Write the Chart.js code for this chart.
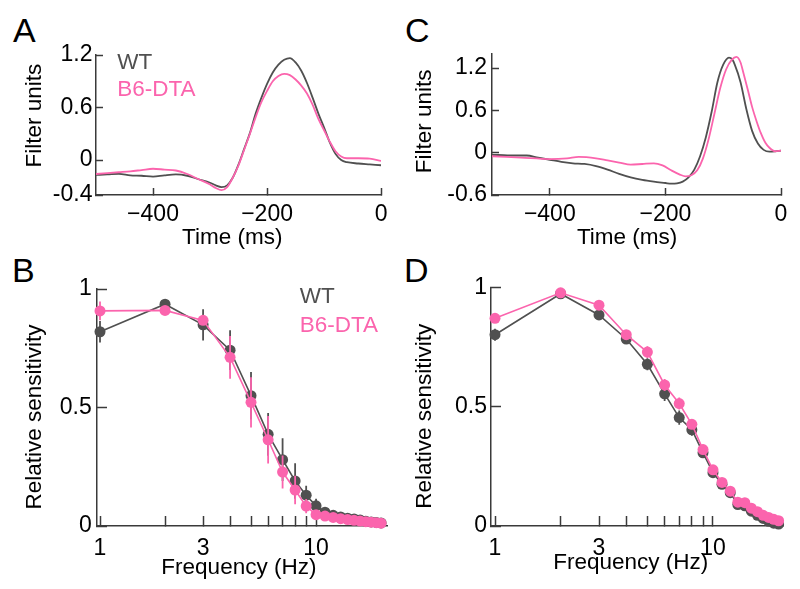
<!DOCTYPE html>
<html><head><meta charset="utf-8">
<script src="https://cdn.jsdelivr.net/npm/chart.js@4.4.0/dist/chart.umd.min.js"></script>
<style>
html,body{margin:0;padding:0;background:#fff;}
body{width:800px;height:589px;position:relative;overflow:hidden;font-family:"Liberation Sans",Arial,sans-serif;}
.panel{position:absolute;}
.letter{position:absolute;font-size:34px;line-height:34px;color:#000;}
</style></head><body>
<div class="letter" style="left:13px;top:13px">A</div>
<div class="letter" style="left:405px;top:13px">C</div>
<div class="letter" style="left:12px;top:253px">B</div>
<div class="letter" style="left:404px;top:253px">D</div>
<canvas class="panel" id="cA" width="400" height="260" style="left:0;top:0"></canvas>
<canvas class="panel" id="cC" width="400" height="260" style="left:400px;top:0"></canvas>
<canvas class="panel" id="cB" width="400" height="329" style="left:0;top:260px"></canvas>
<canvas class="panel" id="cD" width="400" height="329" style="left:400px;top:260px"></canvas>
<script>
// ---------- Panel A: temporal filters ----------
const A_TIME = [-500,-480,-460,-440,-420,-400,-380,-360,-340,-320,-300,-290,-280,-270,-260,-250,-240,-230,-220,-210,-200,-190,-180,-170,-160,-150,-140,-130,-120,-110,-100,-90,-80,-70,-60,-40,-20,0];
const A_WT   = [-0.17,-0.165,-0.158,-0.175,-0.18,-0.19,-0.175,-0.165,-0.18,-0.22,-0.26,-0.29,-0.31,-0.29,-0.2,-0.05,0.13,0.31,0.53,0.71,0.87,1.0,1.09,1.145,1.165,1.115,1.02,0.88,0.71,0.53,0.37,0.2,0.07,0.0,-0.025,-0.04,-0.05,-0.06];
const A_DTA  = [-0.16,-0.15,-0.14,-0.13,-0.115,-0.1,-0.11,-0.12,-0.16,-0.22,-0.28,-0.32,-0.345,-0.31,-0.2,-0.06,0.12,0.3,0.49,0.66,0.79,0.9,0.96,0.985,0.97,0.92,0.85,0.76,0.63,0.47,0.34,0.21,0.1,0.04,0.02,0.02,0.015,-0.01];
const A_XTICKS = [-400,-200,0];
const A_YTICKS = [-0.4,0,0.6,1.2];

// ---------- Panel C: temporal filters ----------
const C_TIME_WT = [-500,-480,-460,-440,-420,-400,-380,-360,-340,-320,-300,-280,-260,-240,-220,-200,-190,-180,-170,-160,-150,-140,-130,-120,-110,-100,-90,-85,-80,-70,-60,-50,-40,-30,-20,-10,0];
const C_WT      = [-0.03,-0.035,-0.04,-0.04,-0.07,-0.1,-0.13,-0.15,-0.16,-0.19,-0.24,-0.3,-0.35,-0.385,-0.41,-0.43,-0.44,-0.435,-0.41,-0.35,-0.24,-0.05,0.22,0.58,1.0,1.25,1.35,1.33,1.25,1.0,0.62,0.31,0.13,0.04,0.015,0.02,0.03];
const C_TIME_DTA = [-500,-450,-400,-370,-350,-320,-300,-280,-260,-240,-220,-205,-190,-175,-165,-155,-145,-135,-125,-115,-105,-95,-85,-77,-70,-65,-57,-50,-42,-35,-27,-20,-10,0];
const C_DTA      = [-0.05,-0.07,-0.09,-0.08,-0.06,-0.08,-0.11,-0.14,-0.17,-0.16,-0.15,-0.18,-0.25,-0.31,-0.335,-0.32,-0.25,-0.08,0.2,0.56,0.92,1.18,1.32,1.36,1.28,1.13,0.88,0.65,0.44,0.28,0.14,0.07,0.02,0.03];
const C_XTICKS = [-400,-200,0];
const C_YTICKS = [-0.6,0,0.6,1.2];

// ---------- Panels B and D: frequency tuning ----------
const FREQ = [1,2,3,4,5,6,7,8,9,10,11,12,13,14,15,16,17,18,19,20];
const FREQ_TICKS = [1,2,3,4,5,6,7,8,9,10];
const FREQ_LABELED = [1,3,10];
const SENS_TICKS = [0,0.5,1];

const B_WT      = [0.82,0.936,0.849,0.742,0.55,0.387,0.28,0.19,0.13,0.085,0.058,0.045,0.038,0.033,0.03,0.025,0.02,0.017,0.015,0.013];
const B_WT_ERR  = [0.045,0.015,0.066,0.084,0.1,0.09,0.09,0.075,0.04,0.03,0.02,0.01,0.01,0.01,0.01,0.008,0.008,0.006,0.006,0.006];
const B_DTA     = [0.908,0.91,0.868,0.712,0.522,0.364,0.228,0.152,0.084,0.048,0.042,0.036,0.031,0.027,0.024,0.021,0.018,0.016,0.014,0.012];
const B_DTA_ERR = [0.04,0.01,0.02,0.09,0.106,0.1,0.07,0.06,0.03,0.02,0.01,0.008,0.008,0.008,0.006,0.006,0.006,0.005,0.005,0.005];

const D_WT      = [0.803,0.975,0.886,0.785,0.679,0.555,0.455,0.404,0.307,0.224,0.175,0.14,0.09,0.085,0.062,0.045,0.032,0.02,0.012,0.008];
const D_WT_ERR  = [0.025,0.01,0.015,0.02,0.025,0.03,0.03,0.025,0.02,0.015,0.01,0.01,0.01,0.01,0.008,0.008,0.006,0.006,0.005,0.005];
const D_DTA     = [0.872,0.979,0.927,0.803,0.73,0.592,0.514,0.427,0.321,0.236,0.183,0.146,0.1,0.098,0.075,0.06,0.045,0.036,0.028,0.022];
const D_DTA_ERR = [0.01,0.01,0.015,0.02,0.025,0.025,0.025,0.02,0.02,0.015,0.01,0.01,0.01,0.01,0.008,0.008,0.006,0.006,0.005,0.005];

// ---------- styling ----------
const GREY = '#505050';
const PINK = '#fb64ad';
const AXIS = '#3a3a3a';
const FONT = 'Liberation Sans';
Chart.defaults.font.family = FONT;
Chart.defaults.color = '#000';

const legendShift = {
  id: 'legendShift',
  afterLayout(chart, args, opts) {
    if (chart.legend && opts && opts.on) {
      chart.legend.left = chart.chartArea.left + (opts.dx || 0);
      chart.legend.top = chart.chartArea.top + (opts.dy || 0);
    }
  }
};
Chart.register(legendShift);

const fmtX = v => (v < 0 ? '\u2212' : '') + String(Math.abs(v));
const fmtY = v => (v < 0 ? '-' : '') + String(Math.abs(v));
const pts = (xs, ys) => xs.map((x, i) => ({x: x, y: ys[i]}));
function errPts(xs, ys, es) {
  const out = [];
  xs.forEach((x, i) => { out.push({x: x, y: ys[i] - es[i]}, {x: x, y: ys[i] + es[i]}, {x: x, y: null}); });
  return out;
}

function axisX(opts) {
  return {
    type: opts.type, min: opts.min, max: opts.max,
    afterBuildTicks: s => { s.ticks = opts.ticks.map(v => ({value: v})); },
    afterFit: s => { s.height = opts.height; },
    ticks: {autoSkip: false, maxRotation: 0, padding: opts.pad, font: {size: 23}, color: '#000',
            callback: opts.cb || (v => fmtX(v))},
    grid: {display: true, drawOnChartArea: false, drawTicks: true, tickLength: -opts.tl, tickColor: AXIS, tickWidth: 1.5},
    border: {display: true, color: AXIS, width: 1.5},
    title: {display: true, text: opts.title, font: {size: 22.5}, color: '#000', padding: {top: 0, bottom: opts.titlePad}}
  };
}
function axisY(opts) {
  return {
    type: 'linear', min: opts.min, max: opts.max,
    afterBuildTicks: s => { s.ticks = opts.ticks.map(v => ({value: v})); },
    afterFit: s => { s.width = opts.width; },
    ticks: {autoSkip: false, padding: opts.pad, font: {size: 23}, color: '#000', callback: v => fmtY(v)},
    grid: {display: true, drawOnChartArea: false, drawTicks: true, tickLength: -opts.tl, tickColor: AXIS, tickWidth: 1.5},
    border: {display: true, color: AXIS, width: 1.5},
    title: {display: true, text: opts.title, font: {size: 22.5}, color: '#000', padding: {top: opts.titlePad, bottom: 0}}
  };
}
function legendOpts(show, pad) {
  return {
    display: show, position: 'chartArea', align: 'start',
    labels: {
      boxWidth: 0, boxHeight: 0, padding: pad, textAlign: 'left', font: {size: 22.5},
      generateLabels: chart => chart.data.datasets
        .map((ds, i) => ({text: ds.label, fontColor: ds.borderColor, fillStyle: 'rgba(0,0,0,0)', strokeStyle: 'rgba(0,0,0,0)', lineWidth: 0, hidden: false, datasetIndex: i, isErr: ds.isErr}))
        .filter(it => !it.isErr)
    }
  };
}
function curve(label, xs, ys, color, order) {
  return {label: label, data: pts(xs, ys), borderColor: color, backgroundColor: color, borderWidth: 1.8,
          pointRadius: 0, cubicInterpolationMode: 'monotone', fill: false, order: order};
}
function dots(label, ys, color, order) {
  return {label: label, data: pts(FREQ, ys), borderColor: color, backgroundColor: color, borderWidth: 1.6,
          pointRadius: 5.5, pointBackgroundColor: color, pointBorderWidth: 0, tension: 0, fill: false, clip: false, order: order};
}
function errs(label, ys, es, color, order) {
  return {label: label, isErr: true, data: errPts(FREQ, ys, es), borderColor: color, backgroundColor: color, borderWidth: 1.8,
          pointRadius: 0, spanGaps: false, fill: false, clip: false, order: order};
}

function timeChart(id, dsets, xt, yt, ymin, ymax, pad, yw, ytitle, ytitlePad, ytickPad, xtitle, legend, lshift) {
  return new Chart(document.getElementById(id), {
    type: 'line',
    data: {datasets: dsets},
    options: {
      responsive: false, animation: false, events: [],
      layout: {padding: pad},
      scales: {
        x: axisX({type: 'linear', min: -500, max: 0, ticks: xt, height: 65, pad: 12.5, tl: 7, title: xtitle, titlePad: 8.5}),
        y: axisY({min: ymin, max: ymax, ticks: yt, width: yw, pad: ytickPad, tl: 7, title: ytitle, titlePad: ytitlePad})
      },
      plugins: {legend: legendOpts(legend, 5), tooltip: {enabled: false}, legendShift: lshift}
    }
  });
}
function freqChart(id, dsets, xmin, xmax, pad, yw, ytitle, ytitlePad, ytickPad, xtitle, xtitlePad, legend, lshift) {
  return new Chart(document.getElementById(id), {
    type: 'line',
    data: {datasets: dsets},
    options: {
      responsive: false, animation: false, events: [],
      layout: {padding: pad},
      scales: {
        x: axisX({type: 'logarithmic', min: xmin, max: xmax, ticks: FREQ_TICKS, height: 63, pad: 18.5, tl: 10,
                  title: xtitle, titlePad: xtitlePad, cb: v => FREQ_LABELED.includes(v) ? String(v) : ''}),
        y: axisY({min: 0, max: 1, ticks: SENS_TICKS, width: yw, pad: ytickPad, tl: 10, title: ytitle, titlePad: ytitlePad})
      },
      plugins: {legend: legendOpts(legend, 6.5), tooltip: {enabled: false}, legendShift: lshift}
    }
  });
}

timeChart('cA', [curve('WT', A_TIME, A_WT, GREY, 1), curve('B6-DTA', A_TIME, A_DTA, PINK, 0)],
  A_XTICKS, A_YTICKS, -0.4, 1.2, {left: 0, top: 55, right: 12, bottom: 0}, 96, '   Filter units', 21.5, 10.5,
  'Time (ms)  ', true, {on: true, dx: 5, dy: -8.75});
timeChart('cC', [curve('WT', C_TIME_WT, C_WT, GREY, 1), curve('B6-DTA', C_TIME_DTA, C_DTA, PINK, 0)],
  C_XTICKS, C_YTICKS, -0.6, 1.4, {left: 0, top: 54, right: 19, bottom: 0}, 92, ' Filter units', 11.5, 12,
  'Time (ms)   ', false, {});

freqChart('cB', [errs('WT err', B_WT, B_WT_ERR, GREY, 3), dots('WT', B_WT, GREY, 2),
                 errs('B6-DTA err', B_DTA, B_DTA_ERR, PINK, 1), dots('B6-DTA', B_DTA, PINK, 0)],
  0.9685, 21.3, {left: 0, top: 28, right: 13, bottom: 0}, 97, 'Relative sensitivity   ', 21.5, 15.3,
  'Frequency (Hz) ', 7.5, true, {on: true, dx: 185, dy: -10.25});
freqChart('cD', [errs('WT err', D_WT, D_WT_ERR, GREY, 3), dots('WT', D_WT, GREY, 2),
                 errs('B6-DTA err', D_DTA, D_DTA_ERR, PINK, 1), dots('B6-DTA', D_DTA, PINK, 0)],
  0.9586, 20.95, {left: 0, top: 24, right: 17, bottom: 0}, 91, 'Relative sensitivity   ', 11.5, 14,
  'Frequency (Hz)  ', 12.5, false, {});
</script>
</body></html>
